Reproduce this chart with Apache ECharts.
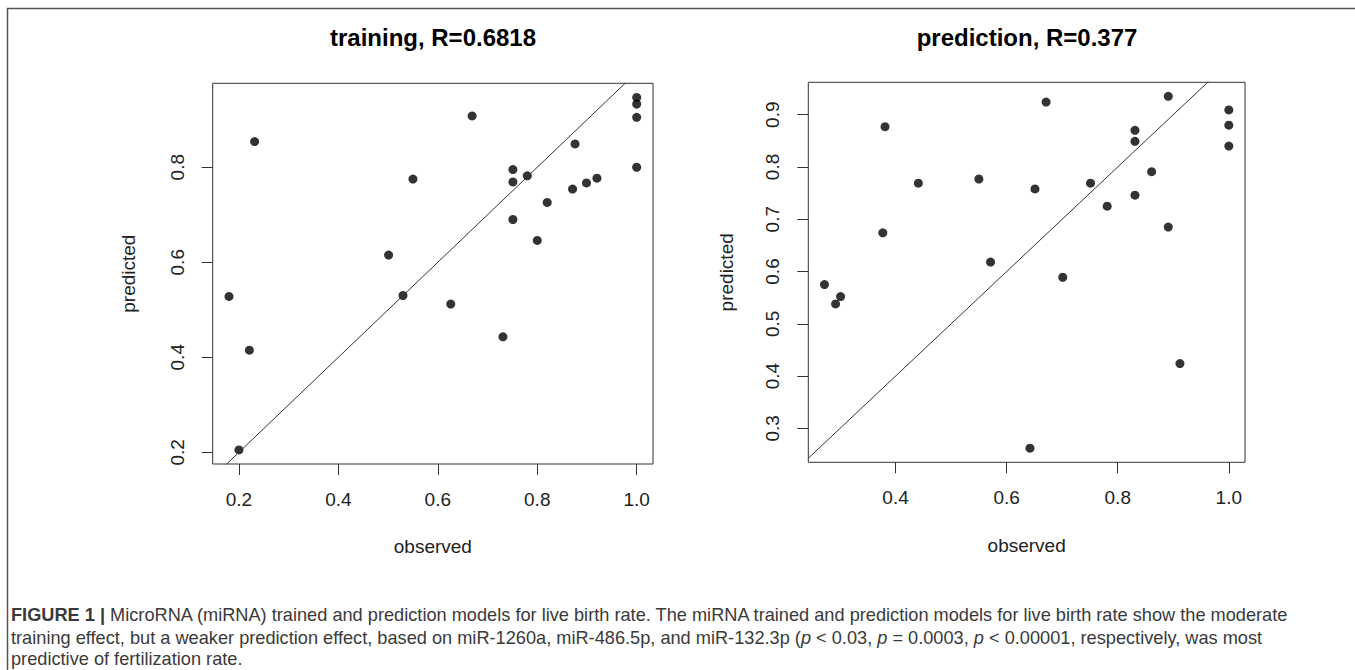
<!DOCTYPE html>
<html lang="en">
<head>
<meta charset="UTF-8">
<title>training / prediction</title>
<script src="https://cdn.jsdelivr.net/npm/echarts@6/dist/echarts.min.js"></script>
<style>
  html,body{margin:0;padding:0;background:#fff}
  #main{width:1355px;height:670px}
</style>
</head>
<body>
<div id="main"></div>
<script>
// training model: observed vs predicted
var trainObserved  = [0.180, 0.2315, 0.221, 0.200, 0.501, 0.550, 0.530, 0.626, 0.669, 0.731, 0.751, 0.751,
                      0.751, 0.780, 0.800, 0.820, 0.871, 0.876, 0.899, 0.920, 1.000, 1.000, 1.000, 1.000];
var trainPredicted = [0.528, 0.854, 0.415, 0.205, 0.615, 0.775, 0.530, 0.512, 0.908, 0.443, 0.795, 0.769,
                      0.690, 0.782, 0.646, 0.726, 0.754, 0.849, 0.767, 0.777, 0.947, 0.933, 0.905, 0.800];
// prediction model: observed vs predicted
var predObserved   = [0.272, 0.292, 0.301, 0.377, 0.381, 0.441, 0.550, 0.571, 0.642, 0.651, 0.671, 0.701,
                      0.751, 0.781, 0.831, 0.831, 0.831, 0.861, 0.891, 0.891, 0.912, 1.000, 1.000, 1.000];
var predPredicted  = [0.575, 0.538, 0.552, 0.674, 0.877, 0.769, 0.777, 0.618, 0.262, 0.758, 0.924, 0.589,
                      0.769, 0.725, 0.870, 0.849, 0.746, 0.791, 0.935, 0.685, 0.424, 0.909, 0.880, 0.840];

var trainXTicks = [0.2, 0.4, 0.6, 0.8, 1.0];
var trainYTicks = [0.2, 0.4, 0.6, 0.8];
var predXTicks  = [0.4, 0.6, 0.8, 1.0];
var predYTicks  = [0.3, 0.4, 0.5, 0.6, 0.7, 0.8, 0.9];

var titles = ['training, R=0.6818', 'prediction, R=0.377'];

var FONT = '"Liberation Sans", Arial, sans-serif';

// R style axis range: data range padded by 4% each side
function rRange(v) {
    var lo = Math.min.apply(null, v), hi = Math.max.apply(null, v), d = (hi - lo) * 0.04;
    return [lo - d, hi + d];
}
function pairs(a, b) {
    var out = [];
    for (var i = 0; i < a.length; i++) out.push([a[i], b[i]]);
    return out;
}

var txr = rRange(trainObserved), tyr = rRange(trainPredicted);
var pxr = rRange(predObserved),  pyr = rRange(predPredicted);

function xAxisOf(idx, range, ticks, gap) {
    return {
        type: 'value', gridIndex: idx, min: range[0], max: range[1],
        axisLine: {show: false},
        splitLine: {show: false},
        axisTick: {show: true, customValues: ticks, length: 11, lineStyle: {color: '#333', width: 1}},
        axisLabel: {customValues: ticks, margin: 26, fontSize: 19, color: '#222', fontFamily: FONT,
            formatter: function (v) { return v.toFixed(1); }},
        name: 'observed', nameLocation: 'middle', nameGap: gap,
        nameTextStyle: {fontSize: 19, color: '#222', fontFamily: FONT}
    };
}
function yAxisOf(idx, range, ticks, gap) {
    return {
        type: 'value', gridIndex: idx, min: range[0], max: range[1],
        axisLine: {show: false},
        splitLine: {show: false},
        axisTick: {show: true, customValues: ticks, length: 11, lineStyle: {color: '#333', width: 1}},
        axisLabel: {customValues: ticks, rotate: 90, margin: 26, fontSize: 19, color: '#222', fontFamily: FONT,
            formatter: function (v) { return v.toFixed(1); }},
        name: 'predicted', nameLocation: 'middle', nameGap: gap,
        nameTextStyle: {fontSize: 19, color: '#222', fontFamily: FONT}
    };
}

var chart = echarts.init(document.getElementById('main'), null, {renderer: 'svg'});
var option = {
    animation: false,
    backgroundColor: '#fff',
    grid: [
        {left: 212.7, top: 83.3, width: 440.3, height: 380.7, show: true, borderColor: '#333', borderWidth: 1, outerBoundsMode: 'none'},
        {left: 808.3, top: 82.3, width: 436.7, height: 380,   show: true, borderColor: '#333', borderWidth: 1, outerBoundsMode: 'none'}
    ],
    xAxis: [xAxisOf(0, txr, trainXTicks, 73), xAxisOf(1, pxr, predXTicks, 74)],
    yAxis: [yAxisOf(0, tyr, trainYTicks, 75), yAxisOf(1, pyr, predYTicks, 72)],
    series: [
        {type: 'line', xAxisIndex: 0, yAxisIndex: 0, data: [[txr[0], txr[0]], [txr[1], txr[1]]],
            symbol: 'none', clip: true, silent: true, lineStyle: {color: '#333', width: 1}},
        {type: 'scatter', xAxisIndex: 0, yAxisIndex: 0, data: pairs(trainObserved, trainPredicted),
            symbolSize: 9, itemStyle: {color: '#000'}},
        {type: 'line', xAxisIndex: 1, yAxisIndex: 1, data: [[pxr[0], pxr[0]], [pxr[1], pxr[1]]],
            symbol: 'none', clip: true, silent: true, lineStyle: {color: '#333', width: 1}},
        {type: 'scatter', xAxisIndex: 1, yAxisIndex: 1, data: pairs(predObserved, predPredicted),
            symbolSize: 9, itemStyle: {color: '#000'}}
    ],
    graphic: [
        {type: 'polyline', silent: true, shape: {points: [[7.5, 670], [7.5, 8.5], [1355, 8.5]]},
            style: {stroke: '#555', lineWidth: 1.5, fill: null}},
        {type: 'text', x: 433, y: 37, style: {text: titles[0], font: 'bold 24px ' + FONT, fill: '#000',
            align: 'center', verticalAlign: 'middle'}},
        {type: 'text', x: 1027, y: 37, style: {text: titles[1], font: 'bold 24px ' + FONT, fill: '#000',
            align: 'center', verticalAlign: 'middle'}},
        {type: 'text', x: 11, y: 615, style: {
            text: '{b|FIGURE 1 |} MicroRNA (miRNA) trained and prediction models for live birth rate. The miRNA trained and prediction models for live birth rate show the moderate',
            font: '18.2px ' + FONT, fill: '#3a3a3a', verticalAlign: 'middle',
            rich: {b: {fontWeight: 'bold', fontSize: 18.2, fontFamily: FONT, fill: '#3a3a3a'}}}},
        {type: 'text', x: 11, y: 638, style: {
            text: 'training effect, but a weaker prediction effect, based on miR-1260a, miR-486.5p, and miR-132.3p ({i|p} < 0.03, {i|p} = 0.0003, {i|p} < 0.00001, respectively, was most',
            font: '18.2px ' + FONT, fill: '#3a3a3a', verticalAlign: 'middle',
            rich: {i: {fontStyle: 'italic', fontSize: 18.2, fontFamily: FONT, fill: '#3a3a3a'}}}},
        {type: 'text', x: 11, y: 659, style: {
            text: 'predictive of fertilization rate.',
            font: '18.2px ' + FONT, fill: '#3a3a3a', verticalAlign: 'middle'}}
    ]
};
chart.setOption(option);
</script>
</body>
</html>
